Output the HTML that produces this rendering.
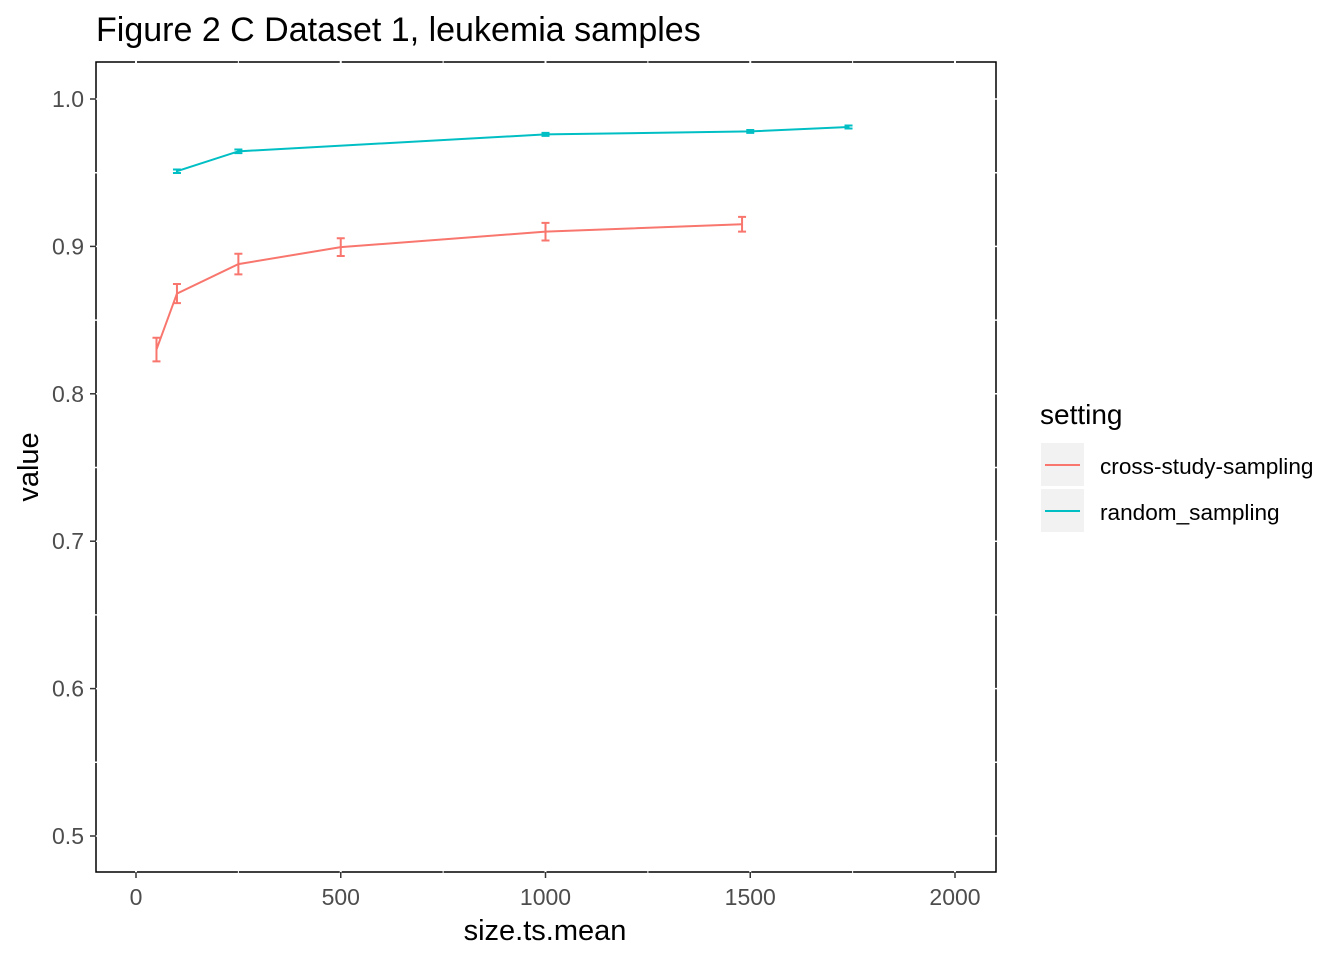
<!DOCTYPE html>
<html><head><meta charset="utf-8">
<style>
body{margin:0;background:#fff;}
svg text{font-family:"Liberation Sans",Arial,sans-serif;}
</style></head>
<body>
<svg id="chart" width="1344" height="960" xmlns="http://www.w3.org/2000/svg">
<rect width="1344" height="960" fill="#fff"/>
<text x="96" y="41" font-size="34" fill="#000">Figure 2 C Dataset 1, leukemia samples</text>
<g id="plot"></g>
<text x="545" y="940" font-size="29" text-anchor="middle" fill="#000">size.ts.mean</text>
<text transform="translate(38,467) rotate(-90)" font-size="29" text-anchor="middle" fill="#000">value</text>
<g>
<text x="1040" y="424" font-size="28" fill="#000">setting</text>
<g>
<rect x="1041" y="443" width="43" height="43" fill="#f2f2f2"/>
<line x1="1045" y1="465" x2="1080" y2="465" stroke="#F8766D" stroke-width="2"/>
<text x="1100" y="474" font-size="22.6" fill="#000">cross-study-sampling</text>
</g>
<g>
<rect x="1041" y="489" width="43" height="43" fill="#f2f2f2"/>
<line x1="1045" y1="511" x2="1080" y2="511" stroke="#00BFC4" stroke-width="2"/>
<text x="1100" y="520" font-size="22.6" fill="#000">random_sampling</text>
</g>
</g>
</svg>
<script>
const xTicks=[0,500,1000,1500,2000];
const yTicks=[0.5,0.6,0.7,0.8,0.9,1.0];
const yTickLabels=["0.5","0.6","0.7","0.8","0.9","1.0"];
const crossX=[50,100,250,500,1000,1480];
const crossY=[0.830,0.868,0.888,0.8995,0.910,0.915];
const crossErr=[0.008,0.0065,0.007,0.006,0.006,0.005];
const randX=[100,250,1000,1500,1740];
const randY=[0.951,0.9645,0.976,0.978,0.981];
const randErr=[0.0012,0.0012,0.001,0.001,0.001];

const L=96,R=996,T=62,B=872;
function sx(v){return 136+v*(955-136)/2000;}
function sy(v){return 836-(v-0.5)*(836-99)/0.5;}
const ns="http://www.w3.org/2000/svg";
const g=document.getElementById('plot');
function mk(tag,attrs){const e=document.createElementNS(ns,tag);for(const k in attrs)e.setAttribute(k,attrs[k]);g.appendChild(e);return e;}

let p=mk('rect',{x:L,y:T,width:R-L,height:B-T,fill:'#fff',stroke:'#000','stroke-width':1.5});


const xg=[];for(let v=-250;v<=2250;v+=250)xg.push(v);
xg.forEach(v=>{const x=sx(v);if(x>L&&x<R){mk('line',{x1:x,y1:T-1,x2:x,y2:B+1,stroke:'#fff','stroke-width':v%500===0?2:1});}});
for(let v=0.45;v<=1.05;v+=0.05){const y=sy(v);if(y>T&&y<B){mk('line',{x1:L-1,y1:y,x2:R+1,y2:y,stroke:'#fff','stroke-width':1.5});}}

xTicks.forEach(v=>{
 const x=sx(v);
 let t=mk('line',{x1:x,y1:B,x2:x,y2:B+6,stroke:'#333','stroke-width':1.5});
 
 
 let l=mk('text',{x:x,y:B+33,'font-size':23,'text-anchor':'middle',fill:'#4d4d4d'});
 l.textContent=String(v);
 
 
});
yTicks.forEach((v,i)=>{
 const y=sy(v);
 let t=mk('line',{x1:L-6,y1:y,x2:L,y2:y,stroke:'#333','stroke-width':1.5});
 
 
 let l=mk('text',{x:L-12,y:y+8,'font-size':23,'text-anchor':'end',fill:'#4d4d4d'});
 l.textContent=yTickLabels[i];
 
 
});

function series(xs,ys,es,color,name){
 const pts=xs.map((x,i)=>sx(x)+','+sy(ys[i])).join(' ');
 let pl=mk('polyline',{points:pts,fill:'none',stroke:color,'stroke-width':2});
 
 
 xs.forEach((x,i)=>{
  const cx=sx(x),y1=sy(ys[i]+es[i]),y2=sy(ys[i]-es[i]);
  const e=document.createElementNS(ns,'path');
  e.setAttribute('d',`M${cx-4},${y1}H${cx+4}M${cx},${y1}V${y2}M${cx-4},${y2}H${cx+4}`);
  e.setAttribute('stroke',color);e.setAttribute('stroke-width',2);e.setAttribute('fill','none');
  
  
  g.appendChild(e);
 });
}
series(crossX,crossY,crossErr,'#F8766D','cross-study');
series(randX,randY,randErr,'#00BFC4','random');
</script>
</body></html>
